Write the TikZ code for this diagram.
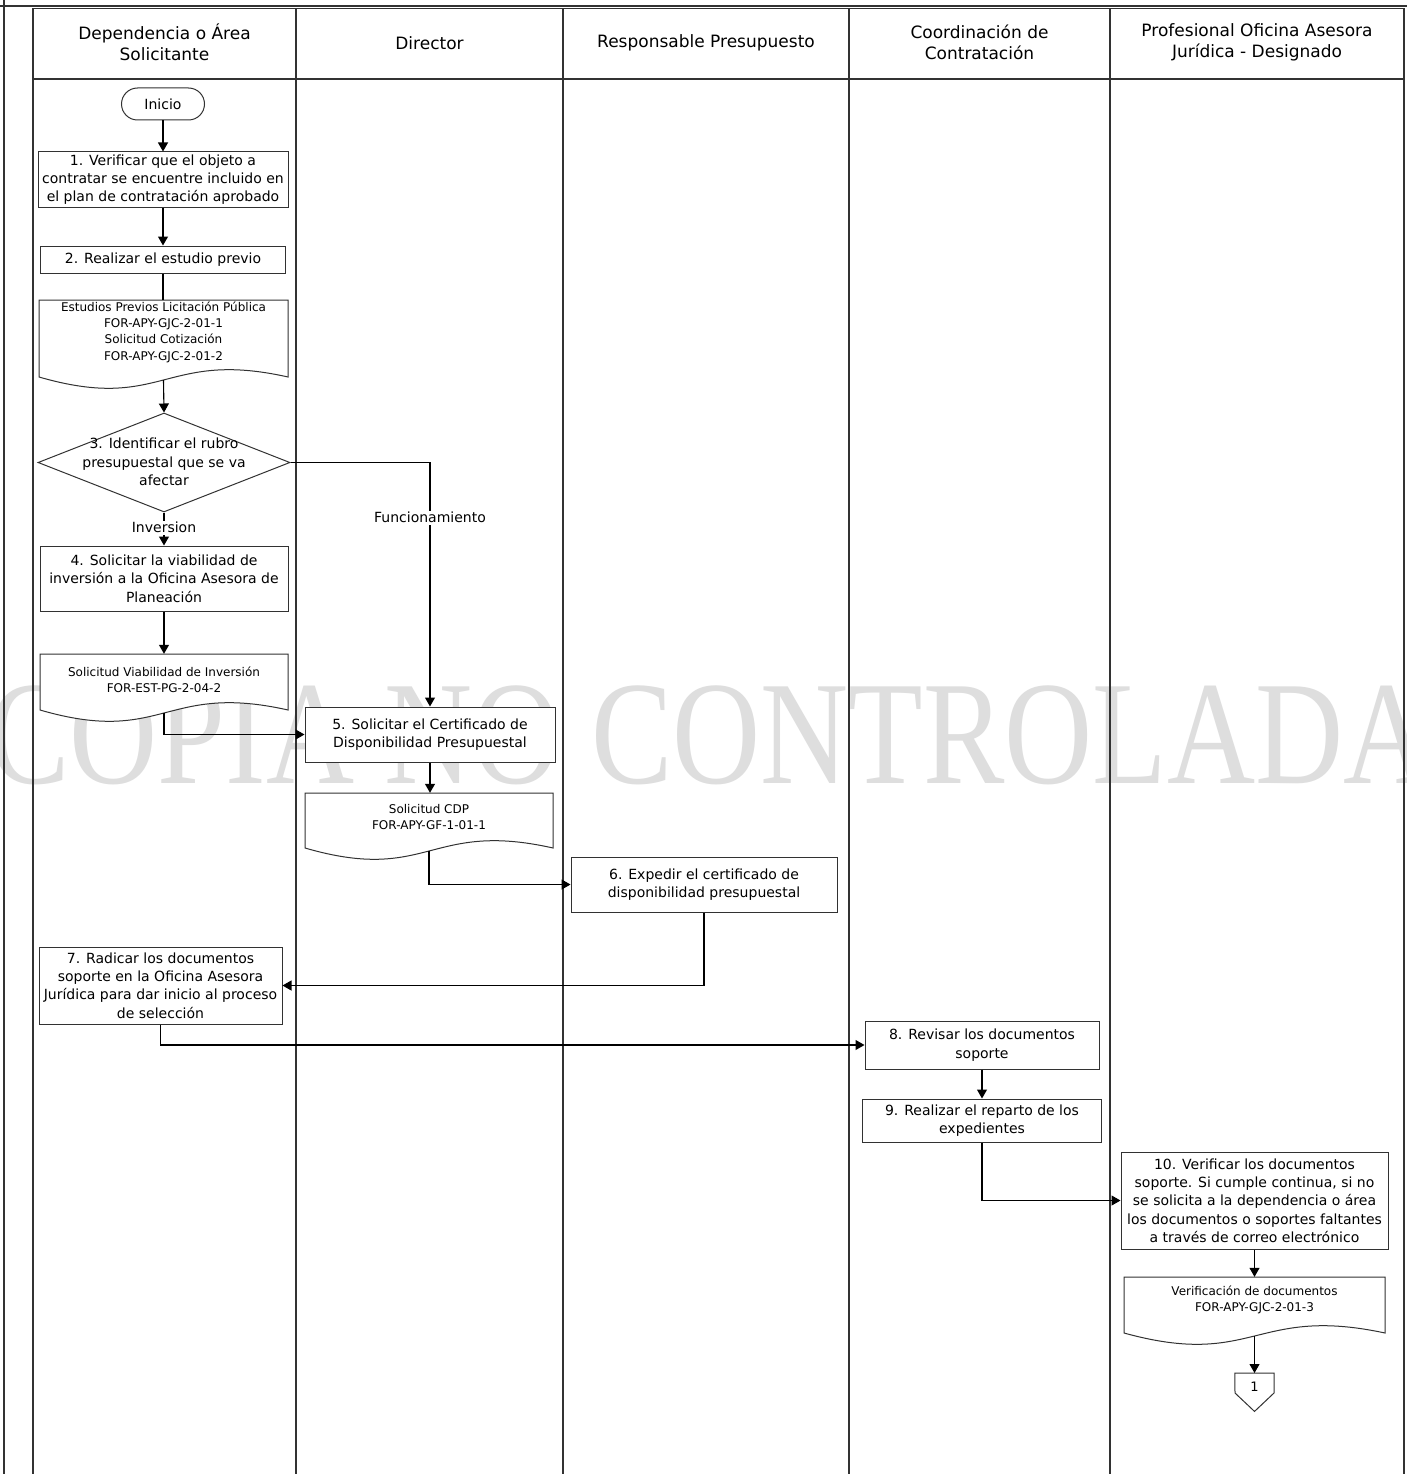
\documentclass[tikz,border=0pt]{standalone}
\usepackage{fontspec}
\usepackage{graphicx}
\setmainfont{DejaVu Sans}
\newfontfamily\wmfont{Liberation Serif}
\usetikzlibrary{arrows.meta,shapes.geometric,calc}
\definecolor{wm}{RGB}{222,222,222}
\definecolor{ln}{RGB}{50,50,50}
\begin{document}
\begin{tikzpicture}[x=1pt,y=-1pt,
  box/.style={draw=ln, line width=1pt, fill=white, align=center, inner sep=0pt, font=\fontsize{14}{18.3}\selectfont},
  docline/.style={draw=ln, line width=1pt, fill=white},
  lane/.style={draw=ln, line width=1.6pt},
  conn/.style={line width=1.1pt, draw=black},
  arr/.style={conn, -{Triangle[length=9pt,width=10pt]}},
  lbl/.style={fill=white, inner sep=1.5pt, font=\fontsize{14}{17}\selectfont},
  hdr/.style={align=center, font=\fontsize{17}{21}\selectfont},
  doctext/.style={align=center, font=\fontsize{12}{16.4}\selectfont, inner sep=0pt}]
\clip (0,0) rectangle (1407,1474);
\fill[white] (0,0) rectangle (1407,1474);
% watermark
\node[anchor=base, text=wm, inner sep=0pt, font=\fontsize{122}{122}\selectfont\wmfont] (wmk) at (710,783) {\scalebox{1}[1.21]{COPIA NO CONTROLADA}};
% frame and lanes
\draw[line width=1.6pt, ln] (0,6) -- (1407,6);
\draw[line width=1.6pt, ln] (4,0) -- (4,1474);
\draw[lane] (33,8.5) -- (1404,8.5);
\draw[lane] (33,79) -- (1404,79);
\foreach \lx in {33,296,563,849,1110,1404} { \draw[lane] (\lx,8.5) -- (\lx,1474); }
% headers
\node[hdr] (h1) at (164.5,42.5) {Dependencia o Área\\Solicitante};
\node[hdr] (h2) at (429.5,43) {Director};
\node[hdr] (h3) at (706,43) {Responsable Presupuesto};
\node[hdr] (h4) at (979.5,42.5) {Coordinación de\\Contratación};
\node[hdr] (h5) at (1257,42.5) {Profesional Oficina Asesora\\Jurídica - Designado};
% nodes
\node[box, rounded corners=16pt, minimum width=83pt, minimum height=32pt] (ini) at (163,104) {Inicio};
\node[box, minimum width=250pt, minimum height=55pt] (b1) at (163,179.5) {1. Verificar que el objeto a\\contratar se encuentre incluido en\\el plan de contratación aprobado};
\node[box, minimum width=245pt, minimum height=27pt] (b2) at (163,259.5) {2. Realizar el estudio previo};
\filldraw[docline] (39,377) -- (39,300) -- (288,300) -- (288,377)
   .. controls (163.5,349) and (163.5,413) .. (39,377) -- cycle;
\node[inner sep=0pt, minimum width=249pt, minimum height=77pt] (doc1) at (163.5,338.5) {};
\node[doctext] (doc1t) at (163.5,332) {Estudios Previos Licitación Pública\\FOR-APY-GJC-2-01-1\\Solicitud Cotización\\FOR-APY-GJC-2-01-2};
\node[diamond, draw=ln, line width=1pt, fill=white, inner sep=0pt, minimum width=252pt, minimum height=99pt] (d3) at (164,462.5) {};
\node[align=center, inner sep=0pt, font=\fontsize{14}{18.5}\selectfont] (d3t) at (164,462) {3. Identificar el rubro\\presupuestal que se va\\afectar};
\node[box, minimum width=248pt, minimum height=65pt] (b4) at (164,578.5) {4. Solicitar la viabilidad de\\inversión a la Oficina Asesora de\\Planeación};
\filldraw[docline] (40,710) -- (40,654) -- (288,654) -- (288,710)
   .. controls (164,682) and (164,746) .. (40,710) -- cycle;
\node[inner sep=0pt, minimum width=248pt, minimum height=56pt] (doc2) at (164,682) {};
\node[doctext] (doc2t) at (164,679.5) {Solicitud Viabilidad de Inversión\\FOR-EST-PG-2-04-2};
\node[box, minimum width=250pt, minimum height=55pt] (b5) at (430,734.5) {5. Solicitar el Certificado de\\Disponibilidad Presupuestal};
\filldraw[docline] (305,848) -- (305,793) -- (553,793) -- (553,848)
   .. controls (429,820) and (429,884) .. (305,848) -- cycle;
\node[inner sep=0pt, minimum width=248pt, minimum height=55pt] (doc3) at (429,820.5) {};
\node[doctext] (doc3t) at (429,817) {Solicitud CDP\\FOR-APY-GF-1-01-1};
\node[box, minimum width=266pt, minimum height=55pt] (b6) at (704,884.5) {6. Expedir el certificado de\\disponibilidad presupuestal};
\node[box, minimum width=243pt, minimum height=77pt] (b7) at (160.5,985.5) {7. Radicar los documentos\\soporte en la Oficina Asesora\\Jurídica para dar inicio al proceso\\de selección};
\node[box, minimum width=234pt, minimum height=48pt] (b8) at (982,1045) {8. Revisar los documentos\\soporte};
\node[box, minimum width=239pt, minimum height=43pt] (b9) at (982,1120.5) {9. Realizar el reparto de los\\expedientes};
\node[box, minimum width=267pt, minimum height=97pt] (b10) at (1254.5,1200.5) {10. Verificar los documentos\\soporte. Si cumple continua, si no\\se solicita a la dependencia o área\\los documentos o soportes faltantes\\a través de correo electrónico};
\filldraw[docline] (1124,1333) -- (1124,1277) -- (1385,1277) -- (1385,1333)
   .. controls (1254.5,1305) and (1254.5,1369) .. (1124,1333) -- cycle;
\node[inner sep=0pt, minimum width=261pt, minimum height=56pt] (doc4) at (1254.5,1305) {};
\node[doctext] (doc4t) at (1254.5,1300) {Verificación de documentos\\FOR-APY-GJC-2-01-3};
\node[inner sep=0pt, minimum width=39pt, minimum height=38pt, anchor=north] (op1) at (1254.5,1373) {};
\filldraw[docline] (op1.north west) -- (op1.north east) -- (1274,1393) -- (op1.south) -- (1235,1393) -- cycle;
\node[inner sep=0pt, font=\fontsize{13}{15}\selectfont] (op1t) at (1254.5,1387) {1};
% connectors
\draw[arr] (ini.south) -- (ini.south |- b1.north);
\draw[arr] (b1.south) -- (b1.south |- b2.north);
\draw[conn] (b2.south) -- (b2.south |- doc1.north);
\draw[arr] ($(doc1.south)+(0,3)$) -- (d3.north);
\draw[arr] (d3.south) -- (b4.north) node[lbl, pos=0.46] {Inversion};
\draw[arr] (d3.east) -| (b5.north) node[lbl, pos=0.613] {Funcionamiento};
\draw[arr] (b4.south) -- (doc2.north);
\draw[arr] ($(doc2.south)+(0,3)$) |- (b5.west);
\draw[arr] (b5.south) -- (b5.south |- doc3.north);
\draw[arr] ($(doc3.south)+(0,3)$) |- (b6.west);
\draw[arr] (b6.south) |- (b7.east);
\draw[arr] (b7.south) |- (b8.west);
\draw[arr] (b8.south) -- (b8.south |- b9.north);
\draw[arr] (b9.south) |- (b10.west);
\draw[arr] (b10.south) -- (doc4.north);
\draw[arr] ($(doc4.south)+(0,3)$) -- (op1.north);
\end{tikzpicture}
\end{document}
